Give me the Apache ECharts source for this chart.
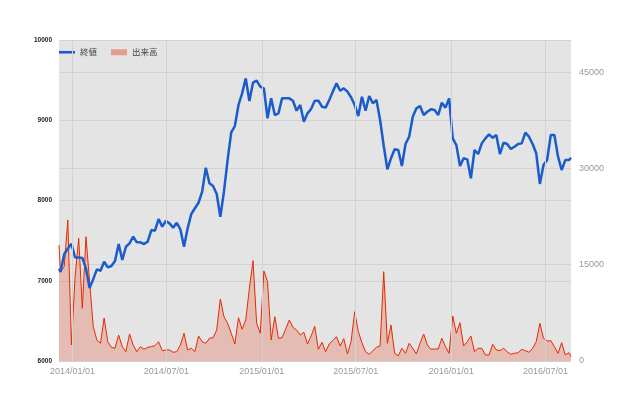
<!DOCTYPE html>
<html>
<head>
<meta charset="utf-8">
<script src="https://cdn.jsdelivr.net/npm/echarts@6/dist/echarts.min.js"></script>
<style>
html,body{margin:0;padding:0;background:#fff;}
#chart{width:640px;height:396px;}
</style>
</head>
<body>
<div id="chart"></div>
<script>
// First point, weekly series start, last point
const firstDate = '2013-12-06';
const weeklyStart = '2013-12-09';
const lastDate = '2016-08-19';

const closeValues = [
7150,7110,7330,7400,7460,7290,7290,7285,7150,6910,
7020,7142,7125,7237,7167,7184,7246,7458,7258,7424,
7466,7549,7479,7479,7458,7487,7632,7624,7769,7674,
7744,7715,7661,7723,7640,7424,7653,7832,7903,7972,
8110,8408,8214,8180,8081,7798,8110,8504,8850,8928,
9190,9335,9522,9240,9468,9493,9418,9398,9024,9273,
9065,9086,9273,9273,9273,9243,9119,9190,8982,9086,
9140,9243,9243,9169,9157,9252,9360,9460,9368,9398,
9356,9286,9190,9053,9293,9119,9302,9211,9252,9003,
8679,8389,8526,8638,8629,8430,8704,8795,9044,9148,
9177,9065,9106,9136,9127,9065,9219,9157,9273,8774,
8691,8430,8526,8513,8276,8629,8579,8712,8774,8824,
8782,8816,8579,8720,8704,8641,8670,8704,8712,8845,
8795,8704,8588,8206,8442,8504,8816,8816,8546,8380,
8504,8504,8533
];

const volumeValues = [
18073,13913,14692,21968,2493,13134,19117,8211,19366,12355,
5344,3272,2758,6700,3007,2134,1979,4051,2228,1449,
4207,2493,1449,2228,1823,2134,2228,2384,3007,1605,
1714,1714,1355,1449,2493,4316,1714,1979,1449,3895,
3007,2758,3537,3630,4830,9660,6902,5874,4316,2649,
6746,4939,6388,11327,15627,5874,4316,14022,12355,3272,
6902,3537,3630,4986,6388,5250,4830,4051,4472,2649,
3900,5400,1823,2913,1449,2649,3200,3786,2337,3474,
1091,3007,7681,4565,2851,1449,1044,1605,2134,2337,
13913,2758,5609,1200,800,1979,1200,2758,1979,1091,
2758,4207,2493,1823,1870,1870,3537,2228,1200,7011,
4316,5967,2337,3007,3895,1449,1979,1979,935,935,
2602,1714,1605,1979,1449,1044,1200,1293,1823,1605,
1355,1979,3007,5874,3537,3116,3163,2228,1200,2851,
935,1293,670
];

const xTickLabels = ['2014-01-01','2014-07-01','2015-01-01','2015-07-01','2016-01-01','2016-07-01'];

function parseDate(s){ const p = s.split('-').map(Number); return Date.UTC(p[0], p[1]-1, p[2]); }
const DAY = 86400000;
const dates = [];
for (let i = 0; i < closeValues.length; i++) {
  if (i === 0) dates.push(parseDate(firstDate));
  else if (i === closeValues.length - 1) dates.push(parseDate(lastDate));
  else dates.push(parseDate(weeklyStart) + (i - 1) * 7 * DAY);
}
const closeData = dates.map((d, i) => [d, closeValues[i]]);
const volumeData = dates.map((d, i) => [d, volumeValues[i]]);
const xTicks = xTickLabels.map(parseDate);

function fmt(v){
  const d = new Date(v);
  const p = n => (n < 10 ? '0' : '') + n;
  return d.getUTCFullYear() + '/' + p(d.getUTCMonth()+1) + '/' + p(d.getUTCDate());
}

const gridColor = '#d2d2d2';
const chart = echarts.init(document.getElementById('chart'), null, {renderer: 'canvas'});
chart.setOption({
  animation: false,
  backgroundColor: '#ffffff',
  textStyle: {fontFamily: 'Liberation Sans, Arial, sans-serif'},
  grid: {left: 59, right: 69, top: 40, bottom: 35, show: true, backgroundColor: '#e4e4e4', borderWidth: 0},
  legend: {
    left: 54, top: 43, itemWidth: 16, itemHeight: 6, itemGap: 14,
    textStyle: {fontSize: 8.5, color: '#444', fontFamily: 'Noto Sans CJK JP, sans-serif'},
    data: [
      {name: '終値', icon: 'path://M0,0H16V2.6H0Z', itemStyle: {color: '#1a5ccc'}},
      {name: '出来高', icon: 'rect', itemStyle: {color: 'rgba(226,70,40,0.45)'}}
    ]
  },
  xAxis: {
    type: 'value',
    min: parseDate(firstDate),
    max: parseDate(lastDate),
    axisLine: {show: false},
    axisTick: {show: false, customValues: xTicks},
    axisLabel: {customValues: xTicks, formatter: fmt, color: '#999', fontSize: 9, margin: 6, hideOverlap: false},
    splitLine: {show: false}
  },
  yAxis: [
    {
      type: 'value', min: 6000, max: 10000, interval: 1000, position: 'left',
      axisLine: {show: false}, axisTick: {show: false},
      axisLabel: {color: '#222', fontSize: 6.5, fontWeight: 'bold', margin: 7, formatter: v => String(v)},
      splitLine: {show: true, lineStyle: {color: gridColor, width: 1}}
    },
    {
      type: 'value', min: 0, max: 50000, interval: 15000, position: 'right',
      axisLine: {show: false}, axisTick: {show: false},
      axisLabel: {color: '#999', fontSize: 9, margin: 8, showMaxLabel: false, formatter: v => String(v)},
      splitLine: {show: true, lineStyle: {color: gridColor, width: 1}}
    }
  ],
  series: [
    {
      name: '出来高', type: 'line', yAxisIndex: 1, data: volumeData,
      symbol: 'none', smooth: false,
      lineStyle: {color: '#e62a00', width: 1},
      itemStyle: {color: '#e62a00'},
      areaStyle: {color: 'rgba(230,42,0,0.3)'},
      markLine: {
        silent: true, symbol: 'none', label: {show: false},
        lineStyle: {color: gridColor, width: 1, type: 'solid'},
        data: xTicks.map(t => ({xAxis: t}))
      },
      z: 2
    },
    {
      name: '終値', type: 'line', yAxisIndex: 0, data: closeData,
      symbol: 'none', smooth: false,
      lineStyle: {color: '#1a5ccc', width: 2.5},
      itemStyle: {color: '#1a5ccc'},
      z: 3
    }
  ]
});
</script>
</body>
</html>
